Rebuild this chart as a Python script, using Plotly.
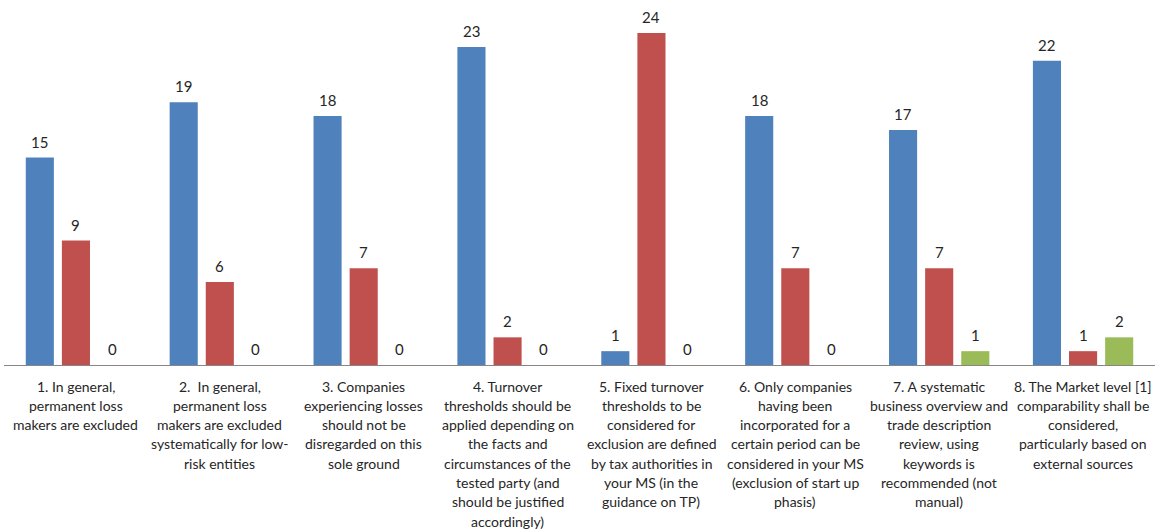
import plotly.graph_objects as go

categories = [
    "1. In general,<br>permanent loss<br>makers are excluded",
    "2.  In general,<br>permanent loss<br>makers are excluded<br>systematically for low-<br>risk entities",
    "3. Companies<br>experiencing losses<br>should not be<br>disregarded on this<br>sole ground",
    "4. Turnover<br>thresholds should be<br>applied depending on<br>the facts and<br>circumstances of the<br>tested party (and<br>should be justified<br>accordingly)",
    "5. Fixed turnover<br>thresholds to be<br>considered for<br>exclusion are defined<br>by tax authorities in<br>your MS (in the<br>guidance on TP)",
    "6. Only companies<br>having been<br>incorporated for a<br>certain period can be<br>considered in your MS<br>(exclusion of start up<br>phasis)",
    "7. A systematic<br>business overview and<br>trade description<br>review, using<br>keywords is<br>recommended (not<br>manual)",
    "8. The Market level [1]<br>comparability shall be<br>considered,<br>particularly based on<br>external sources",
]
series_blue = [15, 19, 18, 23, 1, 18, 17, 22]
series_red = [9, 6, 7, 2, 24, 7, 7, 1]
series_green = [0, 0, 0, 0, 0, 0, 1, 2]

colors = ["#4F81BD", "#C0504D", "#9BBB59"]
names = ["Series 1", "Series 2", "Series 3"]

FONT = "Lato, Liberation Sans, Arial"
TEXT_COLOR = "#262626"
BARGAP = 0.247
BARGROUPGAP = 0.222
LINE_STEP = 19.3  # spacing between wrapped category-label lines (px)

all_series = [series_blue, series_red, series_green]
n_series = len(all_series)
slot = (1 - BARGAP) / n_series  # width of one bar slot in category units

fig = go.Figure()
for vals, col, nm in zip(all_series, colors, names):
    fig.add_trace(go.Bar(
        x=list(range(len(categories))), y=vals, name=nm,
        marker=dict(color=col, line=dict(width=0)),
        cliponaxis=False,
        hovertemplate="%{y}<extra>" + nm + "</extra>",
    ))

annotations = []
# value labels above each bar
for s_idx, vals in enumerate(all_series):
    dx = (s_idx - (n_series - 1) / 2) * slot
    for c_idx, v in enumerate(vals):
        annotations.append(dict(
            x=c_idx + dx, y=v, xref="x", yref="y",
            text=str(v), showarrow=False,
            xanchor="center", yanchor="bottom", yshift=5,
            font=dict(family=FONT, size=15, color=TEXT_COLOR),
        ))
# wrapped category labels under the axis
for c_idx, label in enumerate(categories):
    for l_idx, line in enumerate(label.split("<br>")):
        annotations.append(dict(
            x=c_idx, y=0, xref="x", yref="y",
            text=line, showarrow=False,
            xanchor="center", yanchor="middle",
            yshift=-(21 + l_idx * LINE_STEP),
            font=dict(family=FONT, size=14, color=TEXT_COLOR),
        ))

fig.update_layout(
    width=1159, height=531,
    margin=dict(l=4, r=4, t=5, b=166),
    paper_bgcolor="white", plot_bgcolor="white",
    barmode="group", bargap=BARGAP, bargroupgap=BARGROUPGAP,
    showlegend=False,
    font=dict(family=FONT, color=TEXT_COLOR),
    annotations=annotations,
)
fig.update_xaxes(
    range=[-0.5, len(categories) - 0.5],
    showline=True, linecolor="#868686", linewidth=1,
    ticks="", showgrid=False, zeroline=False,
    showticklabels=False,
)
fig.update_yaxes(
    range=[0, 26.03], visible=False, showgrid=False, zeroline=False,
)

fig.write_html("out.html")
